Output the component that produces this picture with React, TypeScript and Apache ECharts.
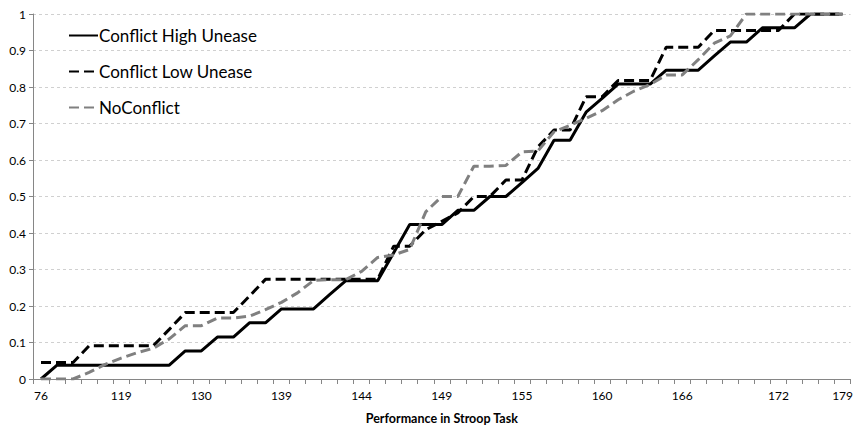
import React, { useEffect, useRef } from "react";
import * as echarts from "echarts";

const categories: string[] = [
  "76", "92", "104", "110", "115", "119", "121", "124", "126", "128",
  "130", "132", "134", "136", "137", "139", "140", "141", "142", "143",
  "144", "145", "146", "147", "148", "149", "150", "151", "152", "153",
  "155", "156", "157", "158", "159", "160", "161", "162", "163", "164",
  "166", "167", "168", "169", "170", "171", "172", "174", "176", "177",
  "179",
];

const shownLabels: string[] = ["76", "119", "130", "139", "144", "149", "155", "160", "166", "172", "179"];

const highUnease: number[] = [
  0, 0.038, 0.038, 0.038, 0.038, 0.038, 0.038, 0.038, 0.038, 0.077,
  0.077, 0.115, 0.115, 0.154, 0.154, 0.192, 0.192, 0.192, 0.231, 0.269,
  0.269, 0.269, 0.346, 0.423, 0.423, 0.423, 0.462, 0.462, 0.5, 0.5,
  0.538, 0.577, 0.654, 0.654, 0.731, 0.769, 0.808, 0.808, 0.808, 0.846,
  0.846, 0.846, 0.885, 0.923, 0.923, 0.962, 0.962, 0.962, 1, 1,
  1,
];

const lowUnease: number[] = [
  0.045, 0.045, 0.045, 0.091, 0.091, 0.091, 0.091, 0.091, 0.136, 0.182,
  0.182, 0.182, 0.182, 0.227, 0.273, 0.273, 0.273, 0.273, 0.273, 0.273,
  0.273, 0.273, 0.364, 0.364, 0.409, 0.432, 0.455, 0.5, 0.5, 0.545,
  0.545, 0.636, 0.682, 0.682, 0.773, 0.773, 0.818, 0.818, 0.818, 0.909,
  0.909, 0.909, 0.955, 0.955, 0.955, 0.955, 0.955, 1, 1, 1,
  1,
];

const noConflict: number[] = [
  0, 0, 0, 0.018, 0.04, 0.057, 0.072, 0.084, 0.11, 0.146,
  0.146, 0.167, 0.167, 0.172, 0.19, 0.21, 0.236, 0.27, 0.272, 0.272,
  0.295, 0.333, 0.34, 0.355, 0.458, 0.5, 0.5, 0.583, 0.583, 0.585,
  0.622, 0.625, 0.677, 0.695, 0.714, 0.735, 0.765, 0.789, 0.807, 0.833,
  0.833, 0.875, 0.92, 0.94, 1, 1, 1, 1, 1, 1,
  1,
];

const seriesNames = ["Conflict High Unease", "Conflict Low Unease", "NoConflict"];

const FONT = "Lato, 'Open Sans', sans-serif";

export default function App() {
  const ref = useRef<HTMLDivElement>(null);

  useEffect(() => {
    if (!ref.current) return;
    const chart = echarts.init(ref.current, undefined, { renderer: "svg" });
    const shown = new Set(shownLabels);
    chart.setOption({
      animation: false,
      backgroundColor: "#ffffff",
      grid: { left: 33, right: 5, top: 14, bottom: 45, containLabel: false },
      legend: {
        orient: "vertical",
        left: 63,
        top: 22,
        itemWidth: 29,
        itemHeight: 14,
        itemGap: 19,
        itemStyle: { opacity: 0 },
        textStyle: { fontFamily: FONT, fontSize: 17, color: "#000", padding: [0, 0, 0, -4] },
        data: seriesNames,
      },
      xAxis: {
        type: "category",
        data: categories,
        boundaryGap: true,
        name: "Performance in Stroop Task",
        nameLocation: "middle",
        nameGap: 33,
        nameTextStyle: { fontFamily: FONT, fontSize: 12.5, fontWeight: "bold", color: "#000" },
        axisLine: { lineStyle: { color: "#868686", width: 1 } },
        axisTick: { show: true, interval: 0, length: 5, lineStyle: { color: "#868686" } },
        axisLabel: {
          interval: (idx: number, val: string) => shown.has(val),
          fontFamily: FONT,
          fontSize: 12,
          color: "#000",
          margin: 10,
        },
        splitLine: { show: false },
      },
      yAxis: {
        type: "value",
        min: 0,
        max: 1,
        interval: 0.1,
        axisLine: { show: true, lineStyle: { color: "#868686", width: 1 } },
        axisTick: { show: true, length: 4, lineStyle: { color: "#868686" } },
        axisLabel: {
          fontFamily: FONT,
          fontSize: 12,
          color: "#000",
          margin: 7,
          formatter: (v: number) => String(parseFloat(v.toFixed(1))),
        },
        splitLine: { show: true, lineStyle: { color: "#d0d0d0", type: [3, 3], width: 1 } },
      },
      series: [
        {
          name: seriesNames[0],
          type: "line",
          data: highUnease,
          symbol: "none",
          lineStyle: { color: "#000000", width: 3 },
          itemStyle: { color: "#000000" },
        },
        {
          name: seriesNames[1],
          type: "line",
          data: lowUnease,
          symbol: "none",
          lineStyle: { color: "#000000", width: 3, type: [10, 5] },
          itemStyle: { color: "#000000" },
        },
        {
          name: seriesNames[2],
          type: "line",
          data: noConflict,
          symbol: "none",
          lineStyle: { color: "#808080", width: 3, type: [10, 5] },
          itemStyle: { color: "#808080" },
        },
      ],
    });
    return () => chart.dispose();
  }, []);

  return (
    <div
      ref={ref}
      style={{ position: "fixed", left: 0, top: 0, width: 856, height: 430 }}
    />
  );
}
